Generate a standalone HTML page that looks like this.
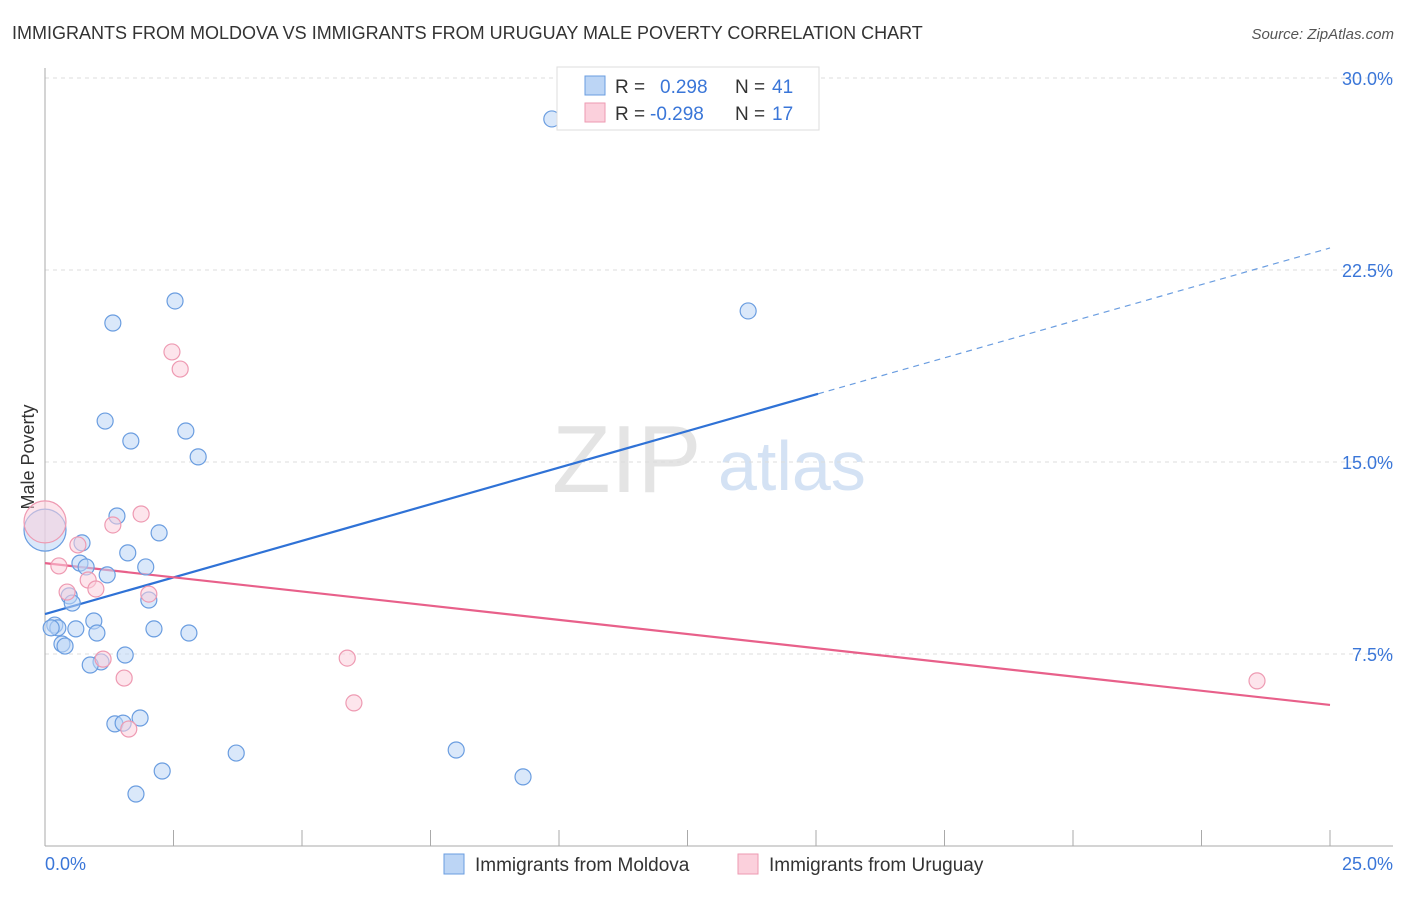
<!DOCTYPE html>
<html><head><meta charset="utf-8"><style>
body{margin:0;background:#fff;font-family:"Liberation Sans",sans-serif;}
svg text{font-family:"Liberation Sans",sans-serif;}
</style></head><body>
<svg id="chart" width="1406" height="892">
<text x="12" y="39" font-size="18" fill="#333">IMMIGRANTS FROM MOLDOVA VS IMMIGRANTS FROM URUGUAY MALE POVERTY CORRELATION CHART</text>
<text x="1394" y="39" font-size="15" fill="#555" font-style="italic" text-anchor="end">Source: ZipAtlas.com</text>
<g>
<text x="552" y="492" font-size="96" font-family="Liberation Serif" fill="#e4e4e4">ZIP</text>
<text x="718" y="490" font-size="70" fill="#d4e2f4">atlas</text>
</g>
<g id="grid"></g>
<g id="axes"></g>
<text transform="translate(34,457) rotate(-90)" font-size="18" fill="#333" text-anchor="middle">Male Poverty</text>
<g id="lines"></g>
<g id="points"></g>
<g>
<rect x="557" y="67" width="262" height="63" fill="#fff" stroke="#ddd"/>
<rect x="585" y="76" width="20" height="19" fill="#bcd5f5" stroke="#6a9de0"/>
<rect x="585" y="103" width="20" height="19" fill="#fbd0dc" stroke="#ee9ab2"/>
<text x="615" y="93" font-size="19" fill="#333">R = <tspan fill="#3a76d8" x="660">0.298</tspan><tspan fill="#333" x="735">N =</tspan><tspan fill="#3a76d8" x="772">41</tspan></text>
<text x="615" y="120" font-size="19" fill="#333">R = <tspan fill="#3a76d8" x="650">-0.298</tspan><tspan fill="#333" x="735">N =</tspan><tspan fill="#3a76d8" x="772">17</tspan></text>
</g>
<g>
<rect x="444" y="854" width="20" height="20" fill="#bcd5f5" stroke="#6a9de0"/>
<text x="475" y="871" font-size="19" fill="#333">Immigrants from Moldova</text>
<rect x="738" y="854" width="20" height="20" fill="#fbd0dc" stroke="#ee9ab2"/>
<text x="769" y="871" font-size="19" fill="#333">Immigrants from Uruguay</text>
</g>
</svg>
<script>
const ns="http://www.w3.org/2000/svg";
const yTicks=[7.5,15,22.5,30];
const yTickLabels=["7.5%","15.0%","22.5%","30.0%"];
const xTickLabels=["0.0%","25.0%"];
const moldovaX=[9.86,2.53,1.32,13.68,1.17,1.67,2.74,2.98,1.40,2.22,0.72,1.61,0.68,0.80,1.96,1.21,0.47,0.53,2.02,0.95,0.19,0.25,0.12,0.60,1.01,2.12,2.80,0.33,0.39,1.56,1.09,0.88,1.36,1.52,1.85,3.72,8.00,2.28,9.30,1.77,0];
const moldovaY=[28.40,21.29,20.43,20.90,16.60,15.82,16.21,15.20,12.89,12.23,11.84,11.45,11.05,10.90,10.90,10.59,9.77,9.49,9.61,8.79,8.63,8.52,8.52,8.48,8.32,8.48,8.32,7.89,7.81,7.46,7.19,7.07,4.77,4.80,5.00,3.63,3.75,2.93,2.70,2.03,12.34];
const uruguayX=[0,2.47,2.63,1.87,1.32,0.64,0.27,0.84,0.99,0.43,2.02,1.13,5.88,1.54,6.01,1.63,23.58];
const uruguayY=[12.66,19.30,18.63,12.97,12.54,11.76,10.94,10.39,10.04,9.92,9.84,7.30,7.34,6.56,5.59,4.57,6.45];
const moldovaTrend=[9.06,23.36];
const uruguayTrend=[11.05,5.51];
const X=v=>45+v/25*1285, Y=v=>846-v/30*768;
function mk(t,a,p){const e=document.createElementNS(ns,t);for(const k in a)e.setAttribute(k,a[k]);p.appendChild(e);return e;}
const grid=document.getElementById('grid'),axes=document.getElementById('axes'),lines=document.getElementById('lines'),pts=document.getElementById('points');
yTicks.forEach((t,i)=>{
 const l=mk('line',{x1:45,x2:1393,y1:Y(t),y2:Y(t),stroke:'#ddd','stroke-dasharray':'4,4'},grid);
 
 
 const tx=mk('text',{x:1393,y:Y(t)+7,'font-size':18,fill:'#3a76d8','text-anchor':'end'},grid);
 tx.textContent=yTickLabels[i];
 
 
});
mk('line',{x1:45,x2:45,y1:68,y2:846,stroke:'#aaa'},axes);
mk('line',{x1:45,x2:1393,y1:846,y2:846,stroke:'#aaa'},axes);
for(let i=0;i<=10;i++){const x=X(i*2.5);const t=mk('line',{x1:x,x2:x,y1:830,y2:846,stroke:'#aaa'},axes);
 
 }
[[0,'start',45],[25,'end',1393]].forEach((d,i)=>{const t=mk('text',{x:d[2],y:870,'font-size':18,fill:'#3a76d8','text-anchor':d[1]},axes);t.textContent=xTickLabels[i];
 
 });
function draw(xs,ys,fill,stroke,name){xs.forEach((x,i)=>{const big=x===0;const c=mk('circle',{cx:X(x),cy:Y(ys[i]),r:big?21:8,fill:fill,'fill-opacity':0.55,stroke:stroke,'stroke-width':1.2},pts);
 
 });}
draw(moldovaX,moldovaY,'#bcd5f5','#6a9de0','point-moldova');
draw(uruguayX,uruguayY,'#fbd0dc','#ee9ab2','point-uruguay');
const mAt=v=>moldovaTrend[0]+(moldovaTrend[1]-moldovaTrend[0])*v/25;
let l1=mk('line',{x1:X(0),y1:Y(mAt(0)),x2:X(15.04),y2:Y(mAt(15.04)),stroke:'#2f72d6','stroke-width':2.2},lines);


let l2=mk('line',{x1:X(15.04),y1:Y(mAt(15.04)),x2:X(25),y2:Y(mAt(25)),stroke:'#6a9de0','stroke-width':1.2,'stroke-dasharray':'6,5'},lines);


let l3=mk('line',{x1:X(0),y1:Y(uruguayTrend[0]),x2:X(25),y2:Y(uruguayTrend[1]),stroke:'#e8608a','stroke-width':2.2},lines);


</script>
</body></html>
